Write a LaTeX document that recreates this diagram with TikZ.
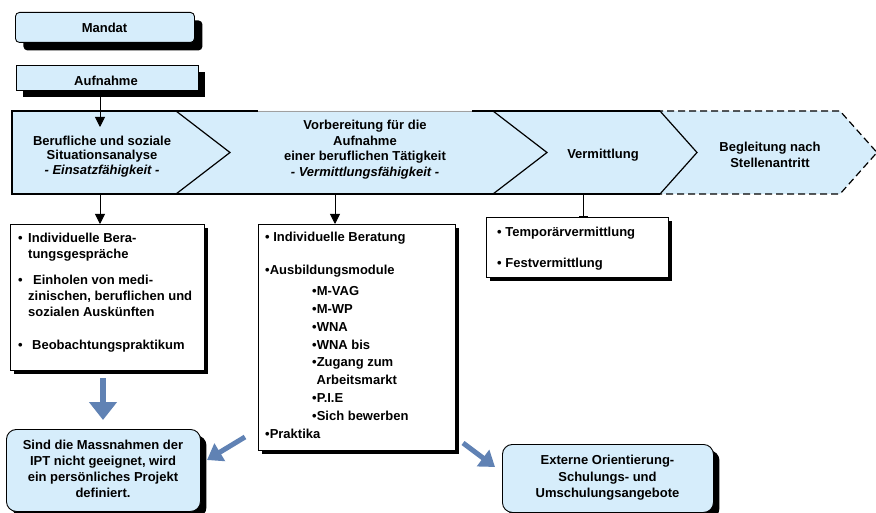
\documentclass[tikz,border=0pt]{standalone}
\usepackage{fontspec}
\setmainfont{Liberation Sans}
\usetikzlibrary{arrows.meta,shadows}
\definecolor{lblue}{RGB}{214,237,251}
\definecolor{sblue}{RGB}{96,130,180}
\definecolor{midgray}{RGB}{160,160,160}
\begin{document}
\begin{tikzpicture}[x=1pt,y=-1pt,
  font=\fontsize{13}{15.5}\selectfont\bfseries,
  boxbase/.style={draw=black, line width=0.9pt, inner sep=0pt, anchor=north west},
  sh/.style={drop shadow={shadow xshift=#1pt, shadow yshift=-#1pt, opacity=1, fill=black}},
  whitebox/.style={boxbase, fill=white, sh=4},
  bluebox/.style={boxbase, fill=lblue},
  lbl/.style={inner sep=0pt},
  band/.style={line width=1.2pt},
  conn/.style={line width=0.9pt, -{Triangle[width=10pt,length=10pt]}},
  barconn/.style={line width=0.9pt, -{Bar[width=9pt,line width=1.4pt]}},
  bigarrow/.style={draw=sblue, line width=6pt, -{Triangle[width=27pt,length=18pt]}},
  diagarrow/.style={draw=sblue, line width=5pt, -{Triangle[width=20pt,length=15pt]}}
]
\useasboundingbox[fill=white] (0,0) rectangle (876,513);

% top boxes
\node[bluebox, rounded corners=4pt, sh=8, minimum width=179pt, minimum height=30pt] (mandat) at (15,12) {};
\node[lbl, anchor=base] (mandatT) at (104.5,32.5) {Mandat};
\node[bluebox, sh=7, minimum width=182pt, minimum height=25pt] (aufn) at (16,65) {};
\node[lbl, anchor=base] (aufnT) at (106,85.5) {Aufnahme};

% band of chevrons
\fill[lblue] (12,111) -- (840,111) -- (877,152.5) -- (840,194) -- (12,194) -- cycle;
\draw[band] (258,111) -- (12,111) -- (12,194) -- (660,194);
\draw[line width=0.6pt, midgray] (258,111) -- (472,111);
\draw[band] (472,111) -- (660,111);
\draw[band] (176,111) -- (230,152.5) -- (176,194);
\draw[band] (493,111) -- (547,152.5) -- (493,194);
\draw[band] (660,111) -- (697,152.5) -- (660,194);
\draw[band, dash pattern=on 7pt off 4pt] (645,111) -- (840,111) -- (877,152.5) -- (840,194) -- (645,194);

\node[lbl, anchor=base, align=center, font=\fontsize{13}{14.5}\selectfont\bfseries] (c1T) at (102,174.5)
  {Berufliche und soziale\\Situationsanalyse\\\textit{- Einsatzfähigkeit -}};
\node[lbl, anchor=base, align=center, font=\fontsize{13}{15.7}\selectfont\bfseries] (c2T) at (365,176.6)
  {Vorbereitung für die\\Aufnahme\\einer beruflichen Tätigkeit\\\textit{- Vermittlungsfähigkeit -}};
\node[lbl, anchor=base] (c3T) at (603,159) {Vermittlung};
\node[lbl, anchor=base, align=center, font=\fontsize{13}{16}\selectfont\bfseries] (c4T) at (770,167.5)
  {Begleitung nach\\Stellenantritt};

\coordinate (c1in) at (100,127);
\coordinate (c1out) at (100,194);
\coordinate (c2out) at (335,194);
\coordinate (c3out) at (583,194);

% lower white boxes
\node[whitebox, minimum width=194pt, minimum height=146pt] (lbox) at (10,224) {};
\node[whitebox, minimum width=197pt, minimum height=226pt] (mbox) at (258,224) {};
\node[whitebox, minimum width=182pt, minimum height=60pt] (vbox) at (486,217) {};

\node[lbl, anchor=base west, align=left] (lboxT) at (18,349.5)
  {\makebox[10pt][l]{•}Individuelle Bera-\\
   \hspace*{10pt}tungsgespräche\\[11pt]
   \makebox[15pt][l]{•}Einholen von medi-\\
   \hspace*{10pt}zinischen, beruflichen und\\[0.5pt]
   \hspace*{10pt}sozialen Auskünften\\[18pt]
   \makebox[14pt][l]{•}Beobachtungspraktikum};

\node[lbl, anchor=base west, align=left, font=\fontsize{13}{17.8}\selectfont\bfseries] (mboxT) at (265,438)
  {• Individuelle Beratung\\[15.2pt]
   •Ausbildungsmodule\\[3pt]
   \hspace*{47pt}•M-VAG\\
   \hspace*{47pt}•M-WP\\
   \hspace*{47pt}•WNA\\
   \hspace*{47pt}•WNA bis\\
   \hspace*{47pt}•Zugang zum\\
   \hspace*{51.5pt}Arbeitsmarkt\\
   \hspace*{47pt}•P.I.E\\
   \hspace*{47pt}•Sich bewerben\\
   •Praktika};

\node[lbl, anchor=base west, align=left] (vboxT) at (497,267.5)
  {• Temporärvermittlung\\[15.5pt]• Festvermittlung};

% bottom blue boxes
\node[bluebox, rounded corners=10pt, sh=6, minimum width=194pt, minimum height=82pt] (pbox) at (6,429) {};
\node[lbl, anchor=base, align=center, font=\fontsize{13}{16}\selectfont\bfseries] (pboxT) at (103,497.5)
  {Sind die Massnahmen der\\IPT nicht geeignet, wird\\ein persönliches Projekt\\definiert.};
\node[bluebox, rounded corners=10pt, sh=6, minimum width=211pt, minimum height=68pt] (ebox) at (502,444) {};
\node[lbl, anchor=base, align=center, font=\fontsize{13}{16.5}\selectfont\bfseries] (eboxT) at (607.5,497.5)
  {Externe Orientierung-\\Schulungs- und\\Umschulungsangebote};

% black connectors
\draw[conn] (aufn.south -| c1in) -- (c1in);
\draw[conn] (c1out) -- (c1out |- lbox.north);
\draw[conn] (c2out) -- (c2out |- mbox.north);
\draw[barconn] (c3out) -- (c3out |- vbox.north);

% blue arrows
\coordinate (b1s) at (103,378);
\coordinate (b1e) at (103,420);
\coordinate (b2s) at (245,437);
\coordinate (b2e) at (207,460);
\coordinate (b3s) at (463,443);
\coordinate (b3e) at (495,467);
\draw[bigarrow] (b1s) -- (b1e);
\draw[diagarrow] (b2s) -- (b2e);
\draw[diagarrow] (b3s) -- (b3e);
\end{tikzpicture}
\end{document}
